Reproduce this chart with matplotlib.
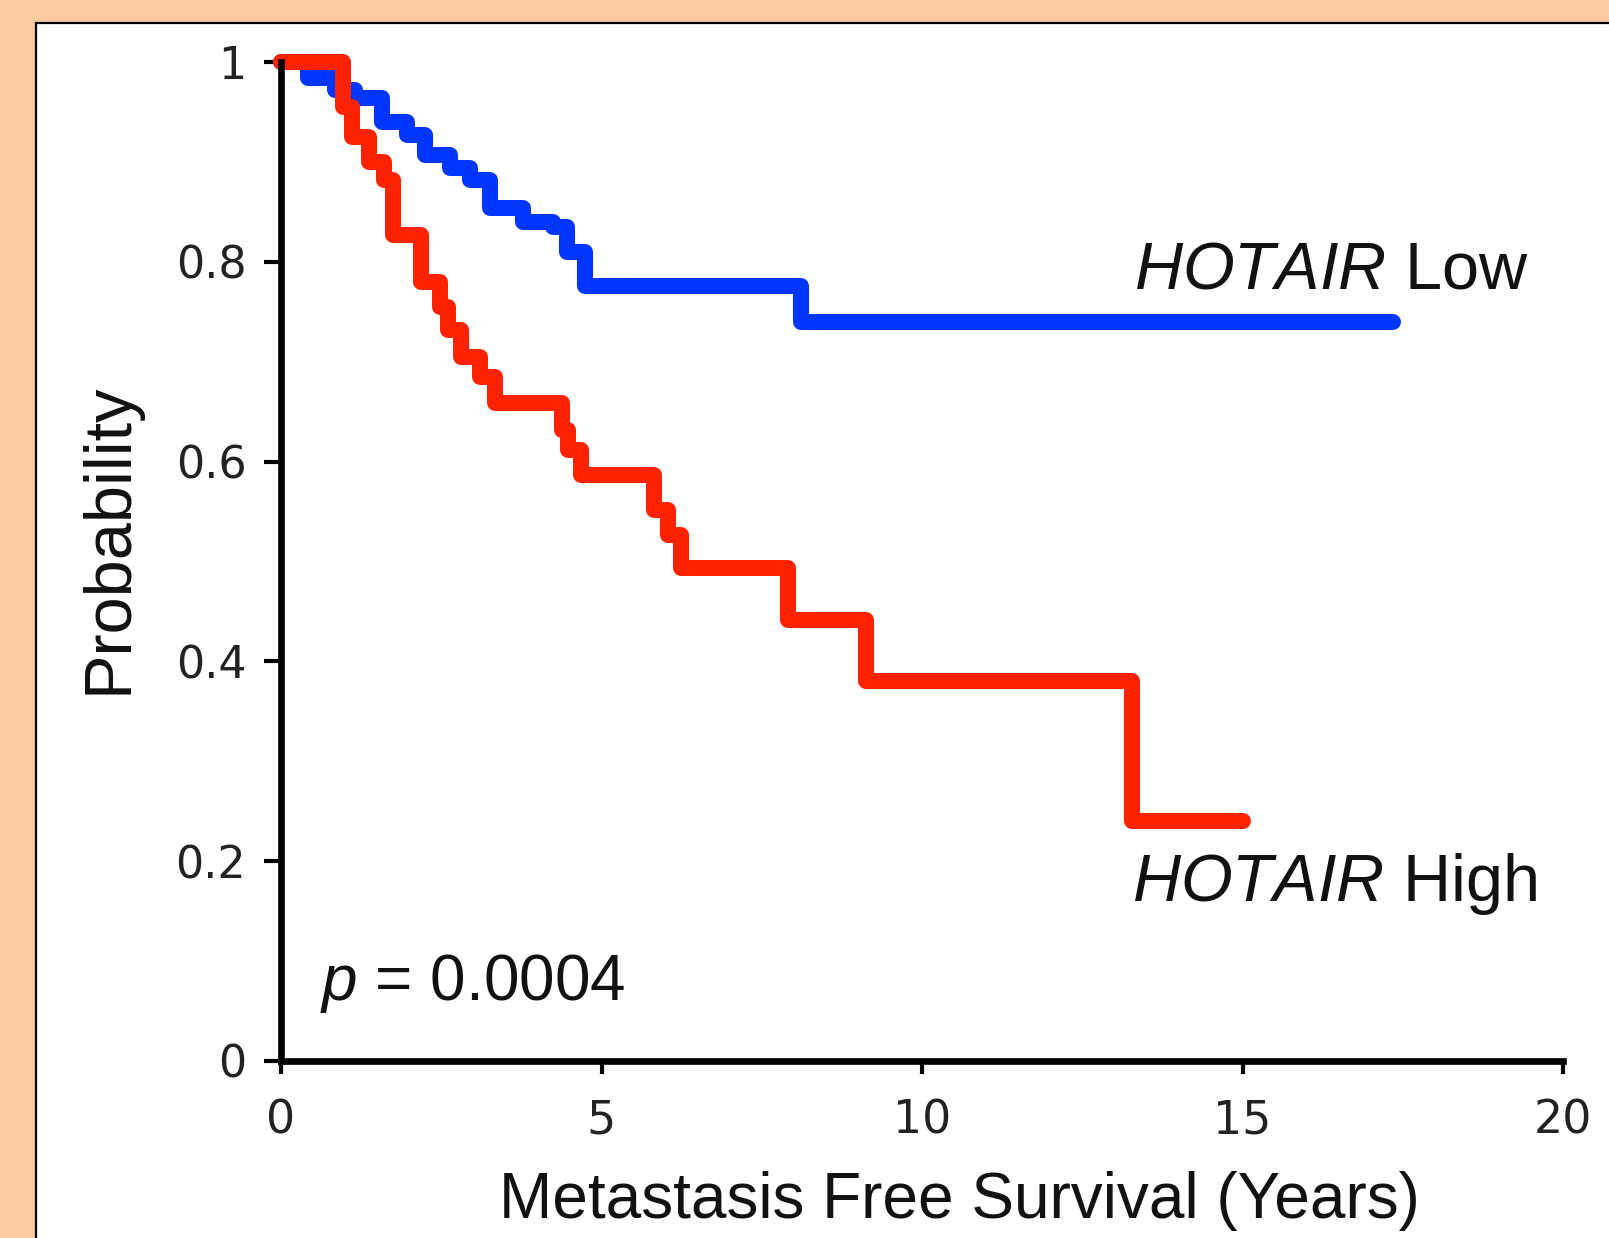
import matplotlib
matplotlib.use("Agg")
import matplotlib.pyplot as plt
from matplotlib.patches import Rectangle

# Kaplan-Meier steps (years, survival probability)
high_time = [0, 0.97, 1.10, 1.38, 1.61, 1.75, 2.18, 2.48, 2.60, 2.81, 3.10, 3.34,
             4.38, 4.48, 4.68, 5.82, 6.03, 6.24, 7.91, 9.13, 13.28, 15.0]
high_surv = [1.0, 0.955, 0.925, 0.900, 0.882, 0.827, 0.780, 0.755, 0.732, 0.705, 0.685, 0.659,
             0.632, 0.612, 0.587, 0.552, 0.527, 0.493, 0.441, 0.380, 0.240, 0.240]

low_time = [0, 0.42, 0.84, 1.15, 1.57, 1.96, 2.25, 2.64, 2.95, 3.26, 3.78, 4.25,
            4.46, 4.74, 8.12, 17.35]
low_surv = [1.0, 0.984, 0.972, 0.964, 0.940, 0.927, 0.907, 0.894, 0.882, 0.854, 0.840, 0.835,
            0.810, 0.776, 0.740, 0.740]

x_ticks = [0, 5, 10, 15, 20]
y_ticks = [0, 0.2, 0.4, 0.6, 0.8, 1.0]
y_tick_labels = ['0', '0.2', '0.4', '0.6', '0.8', '1']

plt.rcParams['font.family'] = ['Liberation Sans', 'DejaVu Sans']
plt.rcParams['mathtext.fontset'] = 'custom'
plt.rcParams['mathtext.rm'] = 'Liberation Sans'
plt.rcParams['mathtext.it'] = 'Liberation Sans:italic'

fig = plt.figure(figsize=(16.09, 12.38), dpi=100, facecolor='#FACBA0')

# white panel with thin black border, running off the right and bottom edges
panel = Rectangle((36 / 1609, -0.05), 1.2, 1 - 23 / 1238 + 0.05,
                  transform=fig.transFigure, facecolor='white',
                  edgecolor='black', linewidth=1.6, zorder=-10)
fig.add_artist(panel)

ax = fig.add_axes([281 / 1609, 1 - 1061 / 1238, (1563 - 281) / 1609, (1061 - 62) / 1238])
ax.set_facecolor('none')
ax.set_zorder(5)

ax.step(low_time, low_surv, where='post', color='#0036FF', linewidth=11.5,
        solid_capstyle='round', solid_joinstyle='round', clip_on=False, zorder=3)
ax.step(high_time, high_surv, where='post', color='#FF2200', linewidth=11.5,
        solid_capstyle='round', solid_joinstyle='round', clip_on=False, zorder=4)

ax.set_xlim(0, 20)
ax.set_ylim(0, 1)
ax.set_xticks(x_ticks)
ax.set_yticks(y_ticks)
ax.set_yticklabels(y_tick_labels)

for side in ['top', 'right']:
    ax.spines[side].set_visible(False)
for side in ['left', 'bottom']:
    ax.spines[side].set_linewidth(4.8)
    ax.spines[side].set_zorder(5)

ax.tick_params(axis='y', direction='out', length=12, width=3, pad=13,
               labelsize=32, labelcolor='#222222')
ax.tick_params(axis='x', direction='out', length=9, width=3, pad=18,
               labelsize=33, labelcolor='#222222')
for lab in ax.get_xticklabels() + ax.get_yticklabels():
    lab.set_family('DejaVu Sans')

ax.text(-0.134, 0.5235, 'Probability', transform=ax.transAxes, rotation=90,
        ha='center', va='center', fontsize=48, color='#111111')
ax.text(0.529, -0.140, 'Metastasis Free Survival (Years)', transform=ax.transAxes,
        ha='center', va='center', fontsize=46, color='#111111')

ax.text(13.31, 0.773, r'$\it{HOTAIR}$ Low', ha='left', va='baseline',
        fontsize=48, color='#111111')
ax.text(13.28, 0.160, r'$\it{HOTAIR}$ High', ha='left', va='baseline',
        fontsize=48, color='#111111')
ax.text(0.61, 0.061, r'$\it{p}$ = 0.0004', ha='left', va='baseline',
        fontsize=46, color='#111111')

fig.savefig('out.png', dpi=100, facecolor=fig.get_facecolor())
